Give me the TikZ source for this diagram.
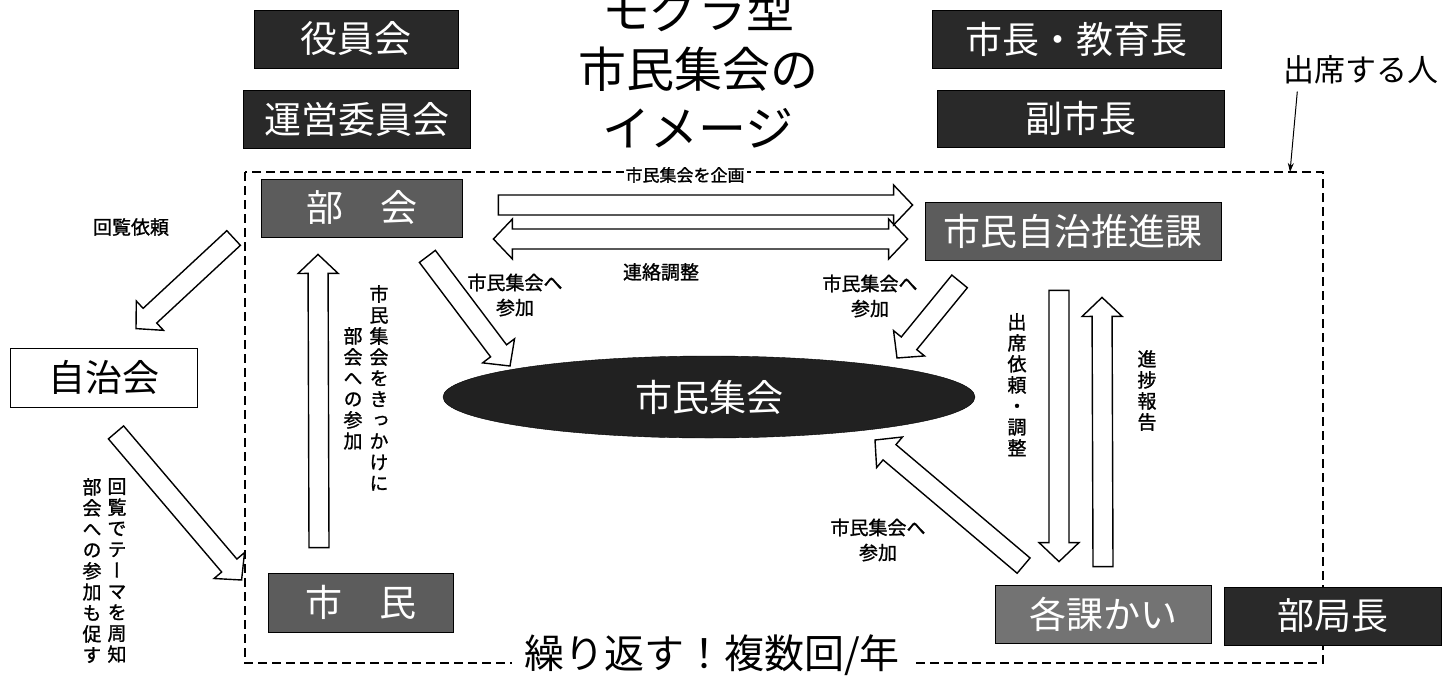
\documentclass[tikz,border=0pt]{standalone}
\usepackage{fontspec}
\setmainfont{Noto Sans CJK JP}
\newfontfamily\notefont[FakeBold=1.2]{Noto Sans CJK JP}
\newfontfamily\tatefont[RawFeature=+vert,FakeBold=1.2]{Noto Sans CJK JP}
\usetikzlibrary{calc,shapes.geometric,arrows.meta}
\definecolor{boxdark}{gray}{0.16}
\definecolor{boxgray}{gray}{0.36}
\definecolor{boxlight}{gray}{0.45}
\definecolor{meetfill}{gray}{0.13}

\makeatletter
\newcommand\tate[1]{\vbox{\tatefont\baselineskip=21pt\lineskiplimit=-100pt\lineskip=0pt\tate@#1\@nil}}
\def\tate@#1{\ifx#1\@nil\else\hbox to 21pt{\hss#1\hss}\expandafter\tate@\fi}
\makeatother

\newcommand\fatarrow[2]{%
  \coordinate (fa-s) at #1;
  \coordinate (fa-t) at #2;
  \coordinate (fa-b) at ($(fa-t)!19pt!(fa-s)$);
  \draw[blockarrow] ($(fa-s)!10pt!90:(fa-t)$) -- ($(fa-b)!10pt!90:(fa-t)$)
    -- ($(fa-b)!20pt!90:(fa-t)$) -- (fa-t) -- ($(fa-b)!20pt!-90:(fa-t)$)
    -- ($(fa-b)!10pt!-90:(fa-t)$) -- ($(fa-s)!10pt!-90:(fa-t)$) -- cycle;}
\newcommand\fatdarrow[2]{%
  \coordinate (fa-s) at #1;
  \coordinate (fa-t) at #2;
  \coordinate (fa-a) at ($(fa-s)!19pt!(fa-t)$);
  \coordinate (fa-b) at ($(fa-t)!19pt!(fa-s)$);
  \draw[blockarrow] (fa-s) -- ($(fa-a)!20pt!90:(fa-t)$) -- ($(fa-a)!10pt!90:(fa-t)$)
    -- ($(fa-b)!10pt!90:(fa-t)$) -- ($(fa-b)!20pt!90:(fa-t)$) -- (fa-t)
    -- ($(fa-b)!20pt!-90:(fa-t)$) -- ($(fa-b)!10pt!-90:(fa-t)$)
    -- ($(fa-a)!10pt!-90:(fa-t)$) -- ($(fa-a)!20pt!-90:(fa-t)$) -- cycle;}

\tikzset{
  namebox/.style={draw=black, line width=0.8pt, text=white, inner sep=0pt,
    minimum height=58pt, font=\fontsize{37}{40}\selectfont},
  darkbox/.style={namebox, fill=boxdark},
  graybox/.style={namebox, fill=boxgray},
  lightbox/.style={namebox, fill=boxlight},
  whitebox/.style={namebox, fill=white, text=black},
  note/.style={font=\notefont\fontsize{19}{25}\selectfont, inner sep=0pt, align=center},
  tatenote/.style={font=\fontsize{19}{21}\selectfont, inner sep=0pt, anchor=north},
  blockarrow/.style={draw=black, fill=white, line width=1.4pt, line join=miter},
  attendframe/.style={draw=black, line width=1.8pt, dash pattern=on 9pt off 5pt}
}

\begin{document}
\begin{tikzpicture}[x=1pt,y=-1pt]
	\useasboundingbox (0,0) rectangle (1453,680);
	\draw[attendframe] (245,172) rectangle (1323,663);
	\coordinate (frametop) at (1290,172);

	\node[font=\fontsize{48}{59}\selectfont, align=center, inner sep=0pt] (title) at (698,68) {モグラ型\\市民集会の\\イメージ};
	\node[darkbox, minimum width=204pt] (yakuin) at (356,39) {役員会};
	\node[darkbox, minimum width=227pt] (unei) at (356.5,119) {運営委員会};
	\node[darkbox, minimum width=289pt] (shicho) at (1076.5,39) {市長・教育長};
	\node[darkbox, minimum width=287pt, minimum height=57pt] (fuku) at (1080.5,118.5) {副市長};
	\node[font=\fontsize{31}{34}\selectfont, inner sep=0pt] (people) at (1361,70) {出席する人};

	\node[graybox, minimum width=201pt] (bukai) at (361.5,208) {部　会};
	\node[graybox, minimum width=296pt] (suishin) at (1073,231) {市民自治推進課};
	\node[whitebox, minimum width=187pt, minimum height=59pt] (jichikai) at (103.5,377.5) {自治会};
	\node[graybox, minimum width=185pt, minimum height=59pt] (shimin) at (360.5,602.5) {市　民};
	\node[lightbox, minimum width=216pt] (kakuka) at (1103,614) {各課かい};
	\node[darkbox, minimum width=217pt] (bukyoku) at (1332.5,616) {部局長};
	\node[ellipse, fill=meetfill, draw=black, minimum width=532pt, minimum height=82pt, inner sep=0pt,
		text=white, font=\fontsize{37}{40}\selectfont] (meet) at (709,397) {市民集会};

	\node[note, fill=white, inner xsep=2pt, inner ysep=1pt, font=\notefont\fontsize{17}{20}\selectfont] (kikaku) at (685,175) {市民集会を企画};
	\node[note] (renraku) at (661,272) {連絡調整};
	\node[note] (sanka1) at (515,295) {市民集会へ\\参加};
	\node[note] (sanka2) at (870,296) {市民集会へ\\参加};
	\node[note] (sanka3) at (878,540) {市民集会へ\\参加};
	\node[note] (kairan) at (131,227) {回覧依頼};
	\node[tatenote] (kikkake) at (379,285) {\tate{市民集会をきっかけに}};
	\node[tatenote] (bukaie) at (353,327) {\tate{部会への参加}};
	\node[tatenote] (shuchi) at (117,478) {\tate{回覧でテーマを周知}};
	\node[tatenote] (unagasu) at (92,478) {\tate{部会への参加も促す}};
	\node[tatenote] (irai) at (1017,313) {\tate{出席依頼・調整}};
	\node[tatenote] (hokoku) at (1147,350) {\tate{進捗報告}};
	\node[fill=white, inner xsep=12pt, inner ysep=2pt, font=\fontsize{40}{44}\selectfont] (repeat) at (712,655) {繰り返す！複数回/年};

	\draw[-{Stealth[length=9pt,width=6pt]}, line width=1pt] ($(people.south west)+(14,7)$) -- (frametop);

	\fatdarrow{($(bukai.east)+(31,31)$)}{($(suishin.west)+(-17,8)$)}
	\fatarrow{($(bukai.east)+(36,-3)$)}{($(suishin.west)+(-12,-26)$)}
	\fatarrow{($(bukai.south east)+(-35,19)$)}{($(meet.center)+(-199,-31)$)}
	\fatarrow{($(suishin.south west)+(35,21)$)}{($(meet.center)+(188,-39)$)}
	\fatarrow{($(kakuka.north west)+(29,-19)$)}{($(meet.center)+(166,43)$)}
	\fatarrow{($(shimin.north)+(-41.5,-25)$)}{($(bukai.south)+(-43.5,17)$)}
	\fatarrow{($(suishin.south)+(-14,30)$)}{($(kakuka.north)+(-44,-23)$)}
	\fatarrow{($(kakuka.north)+(0,-18)$)}{($(suishin.south)+(29,37)$)}
	\fatarrow{($(bukai.west)+(-27,30)$)}{($(jichikai.north)+(32.5,-19)$)}
	\fatarrow{($(jichikai.south)+(12.5,25)$)}{($(shimin.west)+(-26,-22.5)$)}
\end{tikzpicture}
\end{document}
